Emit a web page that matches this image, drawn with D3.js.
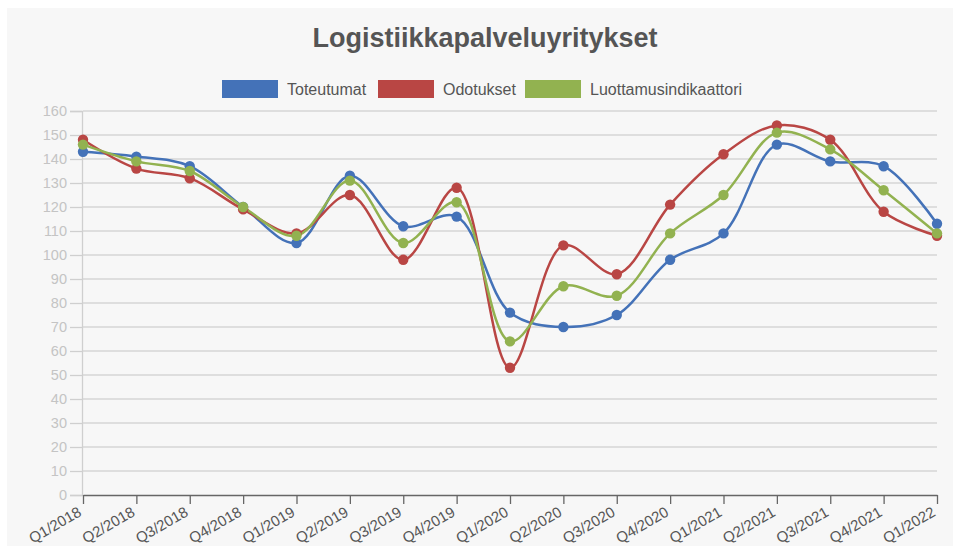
<!DOCTYPE html>
<html><head><meta charset="utf-8">
<script src="https://cdn.jsdelivr.net/npm/d3@7"></script>
<style>body{margin:0;background:#fff;}svg{display:block;font-family:"Liberation Sans",Arial,sans-serif;}</style>
</head><body><svg id="c" width="960" height="546"></svg>
<script>
const categories = ["Q1/2018","Q2/2018","Q3/2018","Q4/2018","Q1/2019","Q2/2019","Q3/2019","Q4/2019","Q1/2020","Q2/2020","Q3/2020","Q4/2020","Q1/2021","Q2/2021","Q3/2021","Q4/2021","Q1/2022"];
const toteutumat = [143,141,137,120,105,133,112,116,76,70,75,98,109,146,139,137,113];
const odotukset = [148,136,132,119,109,125,98,128,53,104,92,121,142,154,148,118,108];
const luottamus = [146,139,135,120,108,131,105,122,64,87,83,109,125,151,144,127,109];
const seriesNames = ["Toteutumat","Odotukset","Luottamusindikaattori"];
const yTicks = d3.range(0,161,10);

const colors = ["#4472b8","#b94644","#92b250"];
const series = [toteutumat, odotukset, luottamus];

const svg = d3.select("#c");
svg.append("rect").attr("x",7).attr("y",8).attr("width",946).attr("height",538).attr("fill","#f7f7f7");

const x = d3.scalePoint().domain(categories).range([83,937]);
const y = d3.scaleLinear().domain([0,160]).range([495,111]);

// title
svg.append("text").attr("x",485).attr("y",47).attr("text-anchor","middle")
  .attr("font-size",27).attr("font-weight","bold").attr("fill","#555").text("Logistiikkapalveluyritykset");

// legend
const legX = [222,378,525];
seriesNames.forEach((n,i)=>{
  const g = svg.append("g").attr("transform",`translate(${legX[i]},80)`);
  g.append("rect").attr("width",56).attr("height",18).attr("fill",colors[i]);
  g.append("text").attr("x",65).attr("y",15).attr("font-size",16).attr("fill","#555").text(n);
});

// gridlines
svg.append("g").selectAll("line").data(yTicks.filter(d=>d>0)).join("line")
  .attr("x1",83).attr("x2",937).attr("y1",d=>y(d)).attr("y2",d=>y(d))
  .attr("stroke","#d6d6d6").attr("stroke-width",1.3);

// y axis
const ya = svg.append("g").attr("transform","translate(82,0)")
  .call(d3.axisLeft(y).tickValues(yTicks).tickSize(12).tickPadding(3));
ya.select(".domain").attr("stroke","#cfcfcf").attr("stroke-width",1.3);
ya.selectAll(".tick line").attr("stroke","#cfcfcf").attr("stroke-width",1.3);
ya.selectAll("text").attr("fill","#c4c4c4").attr("font-size",14.5).attr("font-family","Liberation Sans, Arial, sans-serif");

// x axis
const xa = svg.append("g").attr("transform","translate(0,495)")
  .call(d3.axisBottom(x).tickSize(9).tickSizeOuter(0));
xa.select(".domain").attr("stroke","#666").attr("stroke-width",1.3);
xa.selectAll(".tick line").attr("stroke","#666").attr("stroke-width",1.3);
xa.selectAll("text").attr("fill","#555").attr("font-size",15).attr("font-family","Liberation Sans, Arial, sans-serif")
  .attr("text-anchor","end").attr("dy",0).attr("y",0)
  .attr("transform","translate(-1,20) rotate(-30)");

// lines
const line = d3.line().x((d,i)=>x(categories[i])).y(d=>y(d)).curve(d3.curveCatmullRom.alpha(0.5));
series.forEach((s,k)=>{
  svg.append("path").datum(s).attr("d",line).attr("fill","none")
    .attr("stroke",colors[k]).attr("stroke-width",2.5);
});
series.forEach((s,k)=>{
  svg.append("g").selectAll("circle").data(s).join("circle")
    .attr("cx",(d,i)=>x(categories[i])).attr("cy",d=>y(d)).attr("r",5.2).attr("fill",colors[k]);
});
</script></body></html>
